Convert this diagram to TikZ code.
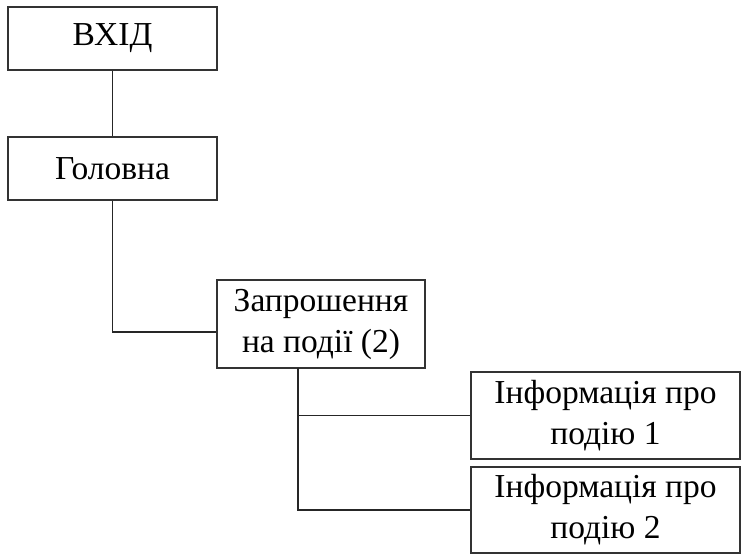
\documentclass[tikz,border=0pt]{standalone}
\usepackage{fontspec}
\setmainfont{Liberation Serif}
\begin{document}
\begin{tikzpicture}[x=1pt,y=-1pt,
  box/.style={draw=black!80, line width=1.6pt, fill=white, inner sep=0pt, align=center,
    font=\fontsize{33.5}{41}\selectfont},
  conn/.style={draw=black!85, line width=1.6pt}]
\useasboundingbox (0,0) rectangle (742,555);
\node[box, minimum width=209pt, minimum height=63pt] (b1) at (112.5,38.5) {ВХІД};
\node[box, minimum width=209pt, minimum height=63pt] (b2) at (112.5,168.5) {Головна};
\node[box, minimum width=208pt, minimum height=88pt] (b3) at (321,324) {Запрошення\\на події (2)};
\node[box, minimum width=269pt, minimum height=87pt] (b4) at (605.5,415.5) {Інформація про\\подію 1};
\node[box, minimum width=269pt, minimum height=86pt] (b5) at (605.5,510) {Інформація про\\подію 2};
\coordinate (j1) at (b2.south |- 0,332);
\coordinate (s3) at (298,368);
\draw[conn] (b1.south) -- (b2.north);
\draw[conn] (b2.south) -- (j1) -- (j1 -| b3.west);
\draw[conn] (s3) |- (b4.west);
\draw[conn] (s3) |- (b5.west);
\end{tikzpicture}
\end{document}
